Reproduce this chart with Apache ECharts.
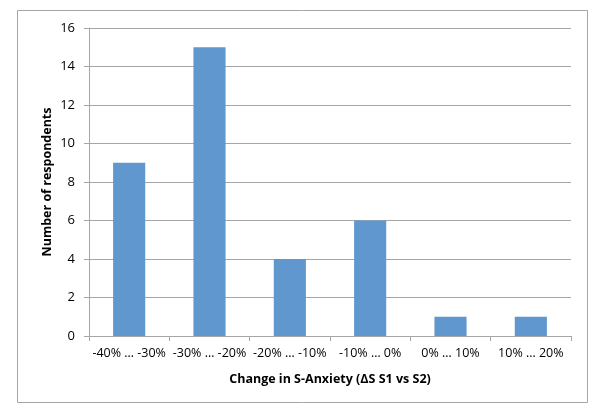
<!DOCTYPE html>
<html><head><meta charset="utf-8">
<script src="https://cdn.jsdelivr.net/npm/echarts@6/dist/echarts.min.js"></script>
<style>html,body{margin:0;padding:0;background:#fff}#c{width:603px;height:417px}</style>
</head><body><div id="c"></div>
<script>
const categories = ['-40% … -30%', '-30% … -20%', '-20% … -10%', '-10% … 0%', '0% … 10%', '10% … 20%'];
const respondents = [9, 15, 4, 6, 1, 1];
const yTicks = [0, 2, 4, 6, 8, 10, 12, 14, 16];

const chart = echarts.init(document.getElementById('c'));
const font = '"Open Sans", "Liberation Sans", sans-serif';
chart.setOption({
  animation: false,
  backgroundColor: '#fff',
  graphic: [{type: 'rect', shape: {x: 17.5, y: 10.5, width: 570, height: 392}, style: {fill: 'none', stroke: '#a6a6a6', lineWidth: 1}}],
  grid: {left: 89, right: 32, top: 28, bottom: 81, outerBoundsMode: 'none'},
  xAxis: {
    type: 'category', data: categories,
    name: 'Change in S-Anxiety (ΔS S1 vs S2)', nameLocation: 'middle', nameGap: 37,
    nameTextStyle: {fontFamily: font, fontWeight: 'bold', fontSize: 12.5, color: '#000'},
    axisLine: {lineStyle: {color: '#a6a6a6'}},
    axisTick: {show: true, length: 5, lineStyle: {color: '#a6a6a6'}},
    axisLabel: {fontFamily: font, fontSize: 12.5, color: '#000', margin: 11, interval: 0}
  },
  yAxis: {
    type: 'value', min: 0, max: 16, interval: 2,
    name: 'Number of respondents', nameLocation: 'middle', nameGap: 42, nameRotate: 90,
    nameMoveOverlap: false,
    nameTextStyle: {fontFamily: font, fontWeight: 'bold', fontSize: 12.5, color: '#000', verticalAlign: 'middle'},
    axisLine: {show: true, lineStyle: {color: '#a6a6a6'}},
    axisTick: {show: true, length: 5, lineStyle: {color: '#a6a6a6'}},
    splitLine: {lineStyle: {color: '#a6a6a6'}},
    axisLabel: {fontFamily: font, fontSize: 13, color: '#000', margin: 14,
      formatter: v => yTicks.includes(v) ? String(v) : ''}
  },
  series: [{
    type: 'bar', data: respondents, barWidth: '40%',
    itemStyle: {color: '#6197cf'}
  }]
});
</script></body></html>
